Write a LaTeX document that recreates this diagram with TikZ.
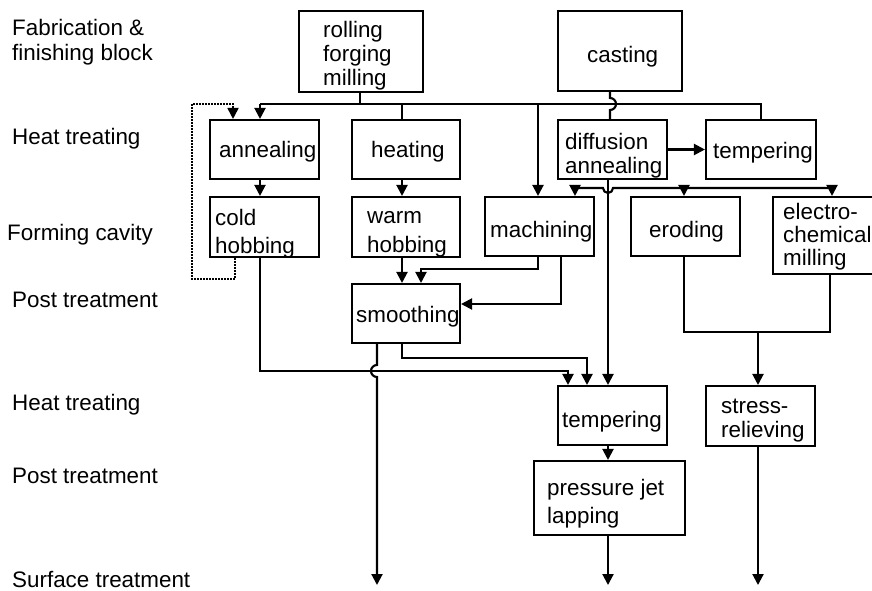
\documentclass[tikz,border=0pt]{standalone}
\usepackage{fontspec}
\setmainfont{Liberation Sans}
\usetikzlibrary{arrows.meta,calc}

\begin{document}
\begin{tikzpicture}[x=1pt,y=-1pt,
  line/.style={line width=2.1pt},
  arr/.style={line, -{Triangle[length=11pt,width=11pt]}},
  dotarr/.style={line width=1.8pt, dash pattern=on 1.5pt off 1.5pt,
    -{Triangle[length=11pt,width=11pt]}},
  box/.style={draw, line width=2.1pt, rectangle, inner sep=0pt},
  txt/.style={inner sep=0pt, anchor=north west, align=left,
    font=\fontsize{22.4}{24}\selectfont}]

\useasboundingbox (0,0) rectangle (872,591);
\clip (0,0) rectangle (872,591);

% stage labels on the left
\node[txt] (l1) at (12,18.2)  {\strut Fabrication \&\\[1pt]finishing block};
\node[txt] (l2) at (12,127.2) {\strut Heat treating};
\node[txt] (l3) at (7,223.2)  {\strut Forming cavity};
\node[txt] (l4) at (12,290.2) {\strut Post treatment};
\node[txt] (l5) at (12,393.2) {\strut Heat treating};
\node[txt] (l6) at (12,466.2) {\strut Post treatment};
\node[txt] (l7) at (12,570.2) {\strut Surface treatment};

% process boxes
\node[box, minimum width=124pt, minimum height=81pt] (roll)   at (361,51.5)  {};
\node[box, minimum width=124pt, minimum height=80pt] (cast)   at (620,51)    {};
\node[box, minimum width=109pt, minimum height=59pt] (ann)    at (264.5,149.5) {};
\node[box, minimum width=108pt, minimum height=59pt] (heat)   at (406,149.5) {};
\node[box, minimum width=109pt, minimum height=59pt] (diff)   at (612.5,149.5) {};
\node[box, minimum width=110pt, minimum height=59pt] (tempA)  at (761,149.5) {};
\node[box, minimum width=109pt, minimum height=60pt] (cold)   at (264.5,227) {};
\node[box, minimum width=108pt, minimum height=60pt] (warm)   at (406,227)   {};
\node[box, minimum width=109pt, minimum height=59pt] (mach)   at (539.5,226.5) {};
\node[box, minimum width=109pt, minimum height=59pt] (erod)   at (685.5,226.5) {};
\node[box, minimum width=107pt, minimum height=77pt] (elec)   at (826.5,235.5) {};
\node[box, minimum width=108pt, minimum height=59pt] (smooth) at (406,313.5) {};
\node[box, minimum width=109pt, minimum height=59pt] (tempB)  at (612.5,415.5) {};
\node[box, minimum width=151pt, minimum height=74pt] (lap)    at (609.5,498) {};
\node[box, minimum width=109pt, minimum height=60pt] (stress) at (760.5,416) {};

% box texts
\node[txt] (roll-t)   at (323,20.2)  {\strut rolling\\forging\\milling};
\node[txt] (cast-t)   at (587,45.2)  {\strut casting};
\node[txt] (ann-t)    at (219,140.2) {\strut annealing};
\node[txt] (heat-t)   at (371,140.2) {\strut heating};
\node[txt] (diff-t)   at (565,132.2) {\strut diffusion\\annealing};
\node[txt] (tempA-t)  at (713,141.2) {\strut tempering};
\node[txt] (cold-t)   at (215,208.2) {\strut cold\\[4pt]hobbing};
\node[txt] (warm-t)   at (367,206.2) {\strut warm\\[5pt]hobbing};
\node[txt] (mach-t)   at (490,220.2) {\strut machining};
\node[txt] (erod-t)   at (649,220.2) {\strut eroding};
\node[txt] (elec-t)   at (783,202.2) {\strut electro-\\[-1pt]chemical\\[-1pt]milling};
\node[txt] (smooth-t) at (356,305.2) {\strut smoothing};
\node[txt] (tempB-t)  at (562,410.2) {\strut tempering};
\node[txt] (lap-t)    at (547,478.2) {\strut pressure jet\\[4pt]lapping};
\node[txt] (stress-t) at (721,396.2) {\strut stress-\\relieving};

% connector columns and levels
\coordinate (xa)   at (260,0);
\coordinate (xdA)  at (235,0);
\coordinate (xdL)  at (192,0);
\coordinate (xdB)  at (233,0);
\coordinate (xr)   at (360,0);
\coordinate (xh)   at (402,0);
\coordinate (xs1)  at (377,0);
\coordinate (xs2)  at (421,0);
\coordinate (xm)   at (538,0);
\coordinate (xm2)  at (561,0);
\coordinate (xb1)  at (575,0);
\coordinate (xd)   at (608,0);
\coordinate (xc)   at (610,0);
\coordinate (xe)   at (684,0);
\coordinate (xt)   at (761,0);
\coordinate (xsr)  at (758,0);
\coordinate (xel)  at (832,0);
\coordinate (xel2) at (830,0);
\coordinate (xtb1) at (568,0);
\coordinate (xtb2) at (587,0);
\coordinate (yA)   at (0,104);
\coordinate (yB)   at (0,188);
\coordinate (yC)   at (0,269);
\coordinate (yD)   at (0,304);
\coordinate (yE)   at (0,332);
\coordinate (yF)   at (0,358);
\coordinate (yG)   at (0,371);
\coordinate (yH)   at (0,585);
\coordinate (yDot) at (0,279);

% distribution from rolling / forging / milling
\draw[line] (roll.south -| xr) -- (xr |- yA);
\draw[line] (xa |- yA) -- (xt |- yA) -- (tempA.north -| xt);
\draw[arr]  (xa |- yA) -- (ann.north -| xa);
\draw[line] (xh |- yA) -- (heat.north -| xh);
\draw[arr]  (xm |- yA) -- (mach.north -| xm);

% casting feeds diffusion annealing, hopping over the distribution line
\draw[line] (cast.south -| xc) -- ($(xc |- yA)+(0,6pt)$)
  arc[start angle=90, end angle=-90, radius=6pt] -- (diff.north -| xc);

\draw[arr] (diff.east) -- (tempA.west);
\draw[arr] (ann.south -| xa) -- (cold.north -| xa);
\draw[arr] (heat.south -| xh) -- (warm.north -| xh);

% forming cavity distribution below diffusion annealing
\draw[line] (xb1 |- yB) -- ($(xd |- yB)+(-5pt,0)$)
  arc[start angle=180, end angle=360, radius=5pt] -- (xel |- yB);
\draw[arr] (xb1 |- yB) -- (mach.north -| xb1);
\draw[arr] (xe |- yB) -- (erod.north -| xe);
\draw[arr] (xel |- yB) -- (elec.north -| xel);
\draw[arr] (diff.south -| xd) -- (tempB.north -| xd);

% into smoothing
\draw[arr] (warm.south -| xh) -- (smooth.north -| xh);
\draw[arr] (mach.south -| xm) |- (xs2 |- yC) -- (smooth.north -| xs2);
\draw[arr] (mach.south -| xm2) |- (smooth.east |- yD);

% out of smoothing and cold hobbing
\draw[arr] (smooth.south -| xs1) -- ($(xs1 |- yG)+(0,6pt)$)
  arc[start angle=90, end angle=270, radius=6pt] -- (xs1 |- yH);
\draw[arr] (smooth.south -| xh) |- (xtb2 |- yF) -- (tempB.north -| xtb2);
\draw[arr] (cold.south -| xa) |- (xtb1 |- yG) -- (tempB.north -| xtb1);

% tempering and lapping
\draw[arr] (tempB.south -| xd) -- (lap.north -| xd);
\draw[arr] (lap.south -| xd) -- (xd |- yH);

% eroding / electro-chemical milling to stress-relieving
\draw[line] (erod.south -| xe) |- (xel2 |- yE) -- (elec.south -| xel2);
\draw[arr] (xsr |- yE) -- (stress.north -| xsr);
\draw[arr] (stress.south -| xsr) -- (xsr |- yH);

% repeated cold hobbing loop back to annealing
\draw[dotarr] (cold.south -| xdA) |- (xdL |- yDot) |- (xdB |- yA) -- (ann.north -| xdB);

\end{tikzpicture}
\end{document}
